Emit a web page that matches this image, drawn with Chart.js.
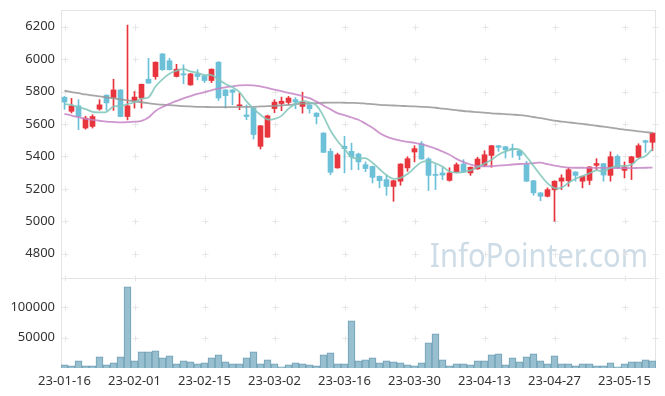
<!DOCTYPE html>
<html><head><meta charset="utf-8">
<script src="https://cdn.jsdelivr.net/npm/chart.js@4/dist/chart.umd.min.js"></script>
<style>html,body{margin:0;padding:0;background:#fff}#wrap{width:665px;height:396px;position:relative}</style>
</head><body><div id="wrap"><canvas id="c" width="665" height="396"></canvas></div>
<script>
const dates = ['23-01-16','23-01-17','23-01-18','23-01-19','23-01-20','23-01-25','23-01-26','23-01-27','23-01-30','23-01-31',
'23-02-01','23-02-02','23-02-03','23-02-06','23-02-07','23-02-08','23-02-09','23-02-10','23-02-13','23-02-14',
'23-02-15','23-02-16','23-02-17','23-02-20','23-02-21','23-02-22','23-02-23','23-02-24','23-02-27','23-02-28',
'23-03-02','23-03-03','23-03-06','23-03-07','23-03-08','23-03-09','23-03-10','23-03-13','23-03-14','23-03-15',
'23-03-16','23-03-17','23-03-20','23-03-21','23-03-22','23-03-23','23-03-24','23-03-27','23-03-28','23-03-29',
'23-03-30','23-03-31','23-04-03','23-04-04','23-04-05','23-04-06','23-04-07','23-04-10','23-04-11','23-04-12',
'23-04-13','23-04-14','23-04-17','23-04-18','23-04-19','23-04-20','23-04-21','23-04-24','23-04-25','23-04-26',
'23-04-27','23-04-28','23-05-02','23-05-03','23-05-04','23-05-08','23-05-09','23-05-10','23-05-11','23-05-12',
'23-05-15','23-05-16','23-05-17','23-05-18','23-05-19'];

const openP = [5765,5678,5712,5575,5585,5692,5778,5763,5810,5646,
5743,5760,5876,5892,6032,5990,5893,5910,5841,5910,
5897,5868,5981,5810,5810,5712,5656,5698,5462,5519,
5695,5726,5733,5750,5708,5718,5667,5544,5431,5329,
5462,5431,5415,5349,5338,5277,5257,5215,5247,5329,
5427,5478,5384,5288,5298,5252,5304,5353,5298,5323,
5345,5406,5466,5460,5449,5435,5349,5250,5175,5154,
5194,5247,5250,5304,5247,5252,5345,5355,5283,5400,
5314,5360,5394,5497,5487];
const highP = [5770,5758,5750,5648,5657,5750,5780,5876,5812,6210,
5800,5846,6005,5983,6035,6005,5968,5965,5912,5935,
5900,5940,5985,5812,5812,5790,5718,5700,5590,5655,
5750,5766,5770,5763,5796,5720,5670,5546,5448,5420,
5524,5482,5420,5366,5340,5280,5283,5252,5355,5398,
5466,5492,5392,5349,5330,5330,5360,5380,5335,5395,
5435,5468,5468,5462,5476,5438,5369,5252,5177,5206,
5250,5287,5330,5306,5280,5337,5386,5357,5428,5410,
5366,5400,5478,5500,5546];
const lowP = [5690,5668,5565,5568,5575,5685,5684,5684,5644,5625,
5698,5698,5850,5876,5930,5932,5890,5848,5838,5872,
5855,5855,5745,5698,5718,5688,5626,5507,5446,5517,
5670,5682,5718,5693,5667,5667,5600,5423,5287,5327,
5298,5318,5318,5305,5236,5206,5160,5123,5222,5308,
5366,5382,5189,5195,5257,5247,5300,5300,5283,5320,
5337,5333,5431,5390,5394,5380,5245,5160,5127,5150,
5000,5195,5215,5247,5206,5226,5318,5247,5247,5328,
5267,5257,5392,5425,5435];
const closeP = [5735,5712,5646,5636,5646,5718,5730,5810,5646,5712,
5766,5845,5852,5981,5935,5935,5938,5902,5909,5893,
5868,5938,5760,5775,5795,5718,5646,5535,5589,5650,
5735,5740,5760,5735,5735,5694,5646,5425,5302,5410,
5448,5397,5366,5325,5271,5250,5215,5250,5353,5386,
5448,5384,5283,5283,5285,5298,5349,5304,5333,5384,
5410,5466,5456,5441,5442,5406,5247,5175,5154,5195,
5247,5267,5318,5283,5277,5335,5356,5285,5398,5330,
5335,5398,5466,5487,5544];

const ma5 = [5722,5718,5702,5692,5675,5672,5675,5708,5710,5723,
5733,5756,5764,5831,5876,5910,5928,5938,5924,5915,
5902,5902,5874,5847,5827,5797,5739,5694,5657,5628,
5631,5650,5695,5724,5741,5733,5714,5647,5560,5495,
5446,5396,5385,5389,5361,5322,5285,5262,5268,5291,
5330,5364,5371,5357,5337,5307,5300,5304,5314,5334,
5356,5379,5410,5431,5443,5442,5398,5342,5285,5235,
5204,5208,5236,5262,5278,5296,5314,5307,5330,5341,
5341,5349,5385,5403,5446];
const ma20 = [5663,5652,5642,5632,5625,5620,5615,5612,5610,5611,
5614,5619,5640,5680,5705,5725,5742,5758,5772,5785,
5797,5808,5818,5826,5832,5838,5840,5838,5832,5822,
5812,5802,5792,5782,5771,5759,5738,5714,5690,5667,
5654,5640,5626,5602,5576,5545,5522,5508,5498,5490,
5484,5475,5462,5448,5430,5410,5385,5365,5350,5340,
5338,5340,5343,5346,5350,5353,5355,5358,5361,5352,
5343,5336,5331,5330,5330,5329,5329,5329,5329,5328,
5328,5328,5329,5330,5331];
const ma60 = [5805,5797,5790,5782,5776,5770,5764,5758,5752,5746,
5740,5734,5728,5722,5719,5716,5713,5710,5708,5706,
5705,5704,5704,5704,5704,5705,5705,5706,5708,5710,
5712,5715,5718,5722,5725,5727,5729,5731,5732,5732,
5731,5730,5729,5726,5722,5718,5716,5714,5712,5710,
5708,5706,5704,5700,5695,5690,5685,5680,5677,5673,
5670,5666,5663,5661,5658,5655,5650,5643,5636,5628,
5620,5615,5610,5605,5600,5595,5589,5583,5577,5571,
5565,5560,5555,5550,5545];

const volume = [5300,3600,11800,3600,3600,18400,5300,8600,18400,133600,
11800,26600,26600,28300,16800,20100,6900,11800,10200,6900,
8600,16800,21700,10200,6900,6900,16800,26600,6900,13500,
6900,2000,5300,8600,6900,5300,3600,21700,25000,6900,
6900,77600,11800,13500,16800,8600,11800,10200,8600,5300,
3600,8600,41400,56200,13500,3600,6900,6900,5300,11800,
11800,21700,23400,5300,16800,10200,18400,23400,11800,6900,
20100,6900,6900,3600,6900,6900,3600,3600,8600,2000,
6900,10200,10200,13500,11800];

const priceTicks = [4800,5000,5200,5400,5600,5800,6000,6200];
const volumeTicks = [50000,100000];
const labelEvery = 10;

const UP = '#e8353d', DOWN = '#6cc0d8';
const candleColors = closeP.map((c,i)=> c >= openP[i] ? UP : DOWN);
const FONT = {family:"'Noto Sans', 'DejaVu Sans', sans-serif", size:13};
const TICKCOLOR = '#333';

const framePlugin = {
  id:'frame',
  beforeDatasetsDraw(chart){
    const {ctx, chartArea:a, scales} = chart;
    const yp = scales.yp, yv = scales.yv, x = scales.x;
    ctx.save();
    ctx.font = "32px 'Noto Sans', sans-serif";
    const txt = 'InfoPointer.com';
    const w = ctx.measureText(txt).width;
    const targetW = 218;
    ctx.translate(a.right - 8 - targetW, yp.bottom - 11);
    ctx.scale(targetW / w, 1);
    ctx.fillStyle = 'rgba(175,198,214,0.62)';
    ctx.textBaseline = 'alphabetic';
    ctx.fillText(txt, 0, 0);
    ctx.restore();
    ctx.save();
    ctx.strokeStyle = '#e4e4e4'; ctx.lineWidth = 1;
    const L = Math.round(a.left)+0.5, R = Math.round(a.right)-0.5, T = Math.round(a.top)+0.5, S = Math.round(yv.top)+0.5;
    ctx.beginPath();
    ctx.moveTo(L, a.top); ctx.lineTo(L, a.bottom);
    ctx.moveTo(a.left, T); ctx.lineTo(a.right, T);
    ctx.moveTo(R, a.top); ctx.lineTo(R, a.bottom);
    ctx.moveTo(a.left, S); ctx.lineTo(a.right, S);
    ctx.stroke();
    ctx.strokeStyle = '#e6e6e6';
    const xs = [];
    for (let i=0;i<dates.length;i+=labelEvery) xs.push(Math.round(x.getPixelForValue(i))+0.5);
    xs.push(R);
    const ys = priceTicks.map(v=>Math.round(yp.getPixelForValue(v))+0.5)
      .concat(volumeTicks.map(v=>Math.round(yv.getPixelForValue(v))+0.5), [S]);
    ctx.beginPath();
    for (const px of xs) for (const py of ys) {
      ctx.moveTo(px-3, py); ctx.lineTo(px+3, py);
      ctx.moveTo(px, py-3); ctx.lineTo(px, py+3);
    }
    ctx.stroke();
    ctx.restore();
  }
};

function noPad(s){ s.paddingTop = 0; s.paddingBottom = 0; }

const ctx = document.getElementById('c').getContext('2d');
new Chart(ctx, {
  type:'bar',
  data:{
    labels: dates,
    datasets:[
      {type:'line', data: ma5, yAxisID:'yp', borderColor:'rgba(128,198,186,0.85)', borderWidth:1.8, pointRadius:0, tension:0.4, order:0},
      {type:'line', data: ma20, yAxisID:'yp', borderColor:'rgba(196,132,196,0.85)', borderWidth:1.8, pointRadius:0, tension:0.4, order:0},
      {type:'line', data: ma60, yAxisID:'yp', borderColor:'rgba(150,150,150,0.85)', borderWidth:1.8, pointRadius:0, tension:0.4, order:0},
      {data: openP.map((o,i)=>[o, closeP[i]]), yAxisID:'yp', backgroundColor: candleColors, barThickness:5, minBarLength:1, grouped:false, order:1},
      {data: lowP.map((l,i)=>[l, highP[i]]), yAxisID:'yp', backgroundColor: candleColors, barThickness:1, grouped:false, order:2},
      {data: volume, yAxisID:'yv', backgroundColor:'#98bfcf', borderColor:'#6f9fb4', borderWidth:1, barPercentage:1, categoryPercentage:1, grouped:false, order:3}
    ]
  },
  options:{
    responsive:false, animation:false,
    layout:{padding:{top:10, right:9, left:0, bottom:0}},
    plugins:{legend:{display:false}, tooltip:{enabled:false}},
    scales:{
      x:{type:'category', offset:true, grid:{display:false, drawTicks:false}, border:{display:false},
         ticks:{autoSkip:false, maxRotation:0, minRotation:0, padding:5, font:FONT, color:TICKCOLOR,
           callback:(v,i)=> i % labelEvery === 0 ? dates[i] : ''},
         afterFit(s){ s.height = 28; s.paddingLeft = 0; s.paddingRight = 0; }},
      yv:{type:'linear', position:'left', stack:'s', stackWeight:90, weight:0, min:0, max:148000,
         afterBuildTicks(s){ s.ticks = volumeTicks.map(v=>({value:v})); },
         grid:{display:false, drawTicks:false}, border:{display:false},
         ticks:{padding:6, font:FONT, color:TICKCOLOR, callback:v=>String(v)},
         afterFit(s){ s.width = 61; noPad(s); }},
      yp:{type:'linear', position:'left', stack:'s', stackWeight:268, weight:1, min:4650, max:6303,
         afterBuildTicks(s){ s.ticks = priceTicks.map(v=>({value:v})); },
         grid:{display:false, drawTicks:false}, border:{display:false},
         ticks:{padding:6, font:FONT, color:TICKCOLOR, callback:v=>String(v)},
         afterFit(s){ s.width = 61; noPad(s); }}
    }
  },
  plugins:[framePlugin]
});
</script>
</body></html>
